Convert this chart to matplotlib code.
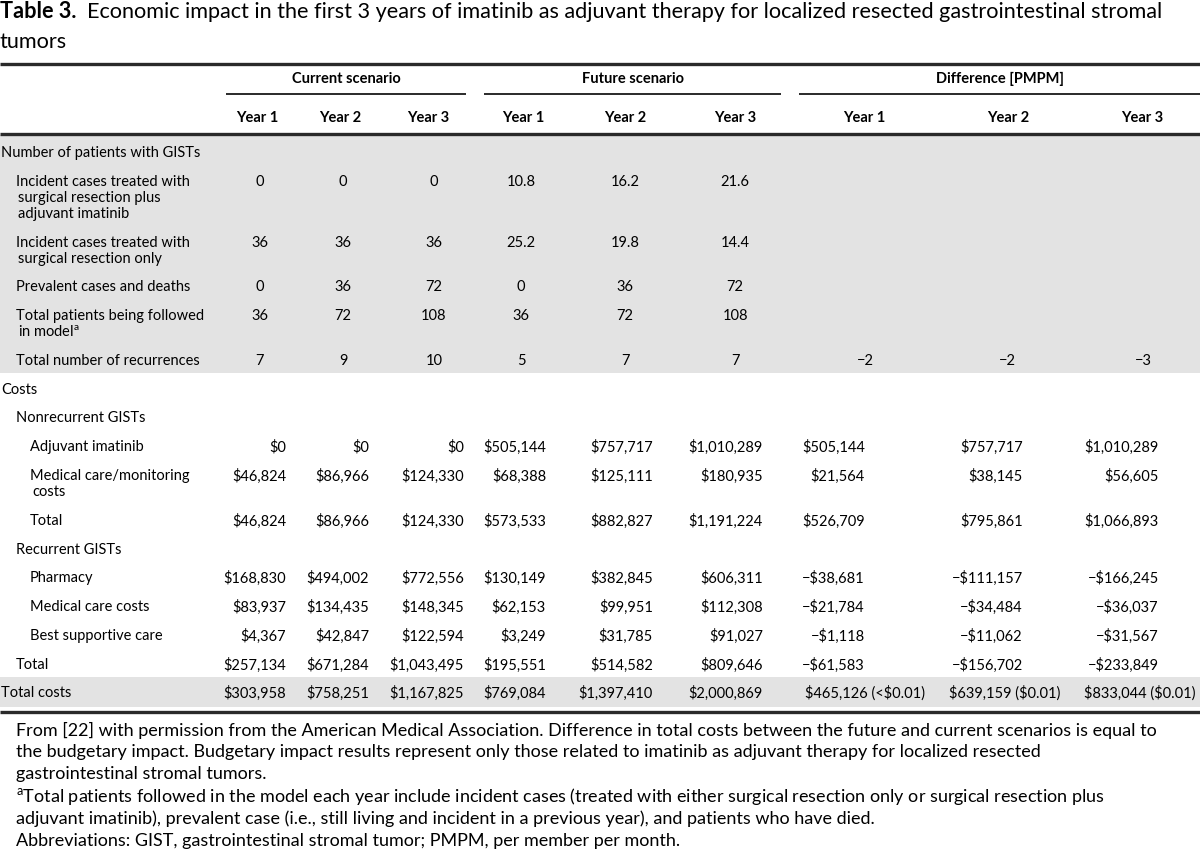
import matplotlib.pyplot as plt
from matplotlib.patches import Rectangle

plt.rcParams['font.family'] = ['Lato', 'DejaVu Sans']
plt.rcParams['mathtext.fontset'] = 'custom'
plt.rcParams['mathtext.rm'] = 'Lato'
plt.rcParams['mathtext.it'] = 'Lato:italic'

# ---- table content ----
title_bold = 'Table 3.'
title_line1 = 'Economic impact in the first 3 years of imatinib as adjuvant therapy for localized resected gastrointestinal stromal'
title_line2 = 'tumors'

groups = ['Current scenario', 'Future scenario', 'Difference [PMPM]']
years = ['Year 1', 'Year 2', 'Year 3']

row_labels = [
    'Number of patients with GISTs',
    'Incident cases treated with\nsurgical resection plus\nadjuvant imatinib',
    'Incident cases treated with\nsurgical resection only',
    'Prevalent cases and deaths',
    'Total patients being followed\nin model$^{\\mathrm{a}}$',
    'Total number of recurrences',
    'Costs',
    'Nonrecurrent GISTs',
    'Adjuvant imatinib',
    'Medical care/monitoring\ncosts',
    'Total',
    'Recurrent GISTs',
    'Pharmacy',
    'Medical care costs',
    'Best supportive care',
    'Total',
    'Total costs',
]
row_levels = [0, 1, 1, 1, 1, 1, 0, 1, 2, 2, 2, 1, 2, 2, 2, 1, 0]
is_cost = [False] * 6 + [True] * 11

current = [
    None, [0, 0, 0], [36, 36, 36], [0, 36, 72], [36, 72, 108], [7, 9, 10],
    None, None,
    [0, 0, 0], [46824, 86966, 124330], [46824, 86966, 124330],
    None,
    [168830, 494002, 772556], [83937, 134435, 148345], [4367, 42847, 122594],
    [257134, 671284, 1043495],
    [303958, 758251, 1167825],
]
future = [
    None, [10.8, 16.2, 21.6], [25.2, 19.8, 14.4], [0, 36, 72], [36, 72, 108], [5, 7, 7],
    None, None,
    [505144, 757717, 1010289], [68388, 125111, 180935], [573533, 882827, 1191224],
    None,
    [130149, 382845, 606311], [62153, 99951, 112308], [3249, 31785, 91027],
    [195551, 514582, 809646],
    [769084, 1397410, 2000869],
]
difference = [
    None, None, None, None, None, [-2, -2, -3],
    None, None,
    [505144, 757717, 1010289], [21564, 38145, 56605], [526709, 795861, 1066893],
    None,
    [-38681, -111157, -166245], [-21784, -34484, -36037], [-1118, -11062, -31567],
    [-61583, -156702, -233849],
    [465126, 639159, 833044],
]
pmpm_total = ['<\\$0.01', '\\$0.01', '\\$0.01']

footnotes = [
    'From [22] with permission from the American Medical Association. Difference in total costs between the future and current scenarios is equal to',
    'the budgetary impact. Budgetary impact results represent only those related to imatinib as adjuvant therapy for localized resected',
    'gastrointestinal stromal tumors.',
    '$^{\\mathrm{a}}$Total patients followed in the model each year include incident cases (treated with either surgical resection only or surgical resection plus',
    'adjuvant imatinib), prevalent case (i.e., still living and incident in a previous year), and patients who have died.',
    'Abbreviations: GIST, gastrointestinal stromal tumor; PMPM, per member per month.',
]


def fmt_count(v):
    return '\u2212' + str(abs(v)) if v < 0 else str(v)


def fmt_cost(v):
    s = '\\${:,}'.format(abs(v))
    return '\u2212' + s if v < 0 else s


# ---- layout (pixels) ----
W, H = 1200, 851
fig = plt.figure(figsize=(12, 8.51), dpi=100)
ax = fig.add_axes([0, 0, 1, 1])
ax.set_xlim(0, W)
ax.set_ylim(H, 0)
ax.axis('off')

fs = 10.5
gray = '#e3e3e3'
rule = '#2a2a2a'

row_y = [153, 182, 243, 287, 316, 361, 390, 418, 447, 476, 521, 550, 578, 607, 636, 665, 693]
indent = [1, 16, 30]
year_x = [257, 340, 428, 523, 625, 735, 864, 1008, 1142]
count_x = [260, 343, 434, 521, 625, 735, 865, 1007, 1143]
cost_right = [286, 369, 464, 546, 653, 763, 865, 1023, 1159]
total_right = [925, 1060, 1196]
group_span = [(226, 466), (484, 781), (799, 1200)]

# shaded bands
ax.add_patch(Rectangle((0, 135), W, 238, color=gray, lw=0, zorder=0))
ax.add_patch(Rectangle((0, 677), W, 30, color=gray, lw=0, zorder=0))

# title
t = ax.text(0, 12, title_bold, fontsize=15.6, fontweight='bold', va='center', ha='left')
ax.annotate('  ' + title_line1, xy=(1, 0.5), xycoords=t, va='center', ha='left', fontsize=15.6)
ax.text(0, 42, title_line2, fontsize=15.6, va='center', ha='left')

# rules
for y in (64, 134, 712):
    ax.plot([0, W], [y, y], color=rule, lw=2.4, solid_capstyle='butt')

# group headers
for g, (x0, x1) in zip(groups, group_span):
    ax.text((x0 + x1) / 2, 79, g, fontsize=fs, fontweight='bold', ha='center', va='center')
    ax.plot([x0, x1], [94, 94], color=rule, lw=1.4, solid_capstyle='butt')

for i, x in enumerate(year_x):
    ax.text(x, 118, years[i % 3], fontsize=fs, fontweight='bold', ha='center', va='center')

# body
for r, label in enumerate(row_labels):
    y = row_y[r]
    x = indent[row_levels[r]]
    for k, line in enumerate(label.split('\n')):
        ax.text(x + (2 if k else 0), y + 16 * k, line, fontsize=fs, ha='left', va='center')

    vals = []
    for block in (current[r], future[r], difference[r]):
        vals += block if block is not None else [None] * 3
    for c, v in enumerate(vals):
        if v is None:
            continue
        if not is_cost[r]:
            ax.text(count_x[c], y, fmt_count(v), fontsize=fs, ha='center', va='center')
        elif r == len(row_labels) - 1 and c >= 6:
            s = fmt_cost(v) + ' (' + pmpm_total[c - 6] + ')'
            ax.text(total_right[c - 6], y, s, fontsize=fs, ha='right', va='center')
        else:
            ax.text(cost_right[c], y, fmt_cost(v), fontsize=fs, ha='right', va='center')

# footnotes
for k, line in enumerate(footnotes):
    ax.text(16, 730 + 22.2 * k, line, fontsize=13.0, ha='left', va='center')

fig.savefig('out.png', dpi=100, facecolor='white')
